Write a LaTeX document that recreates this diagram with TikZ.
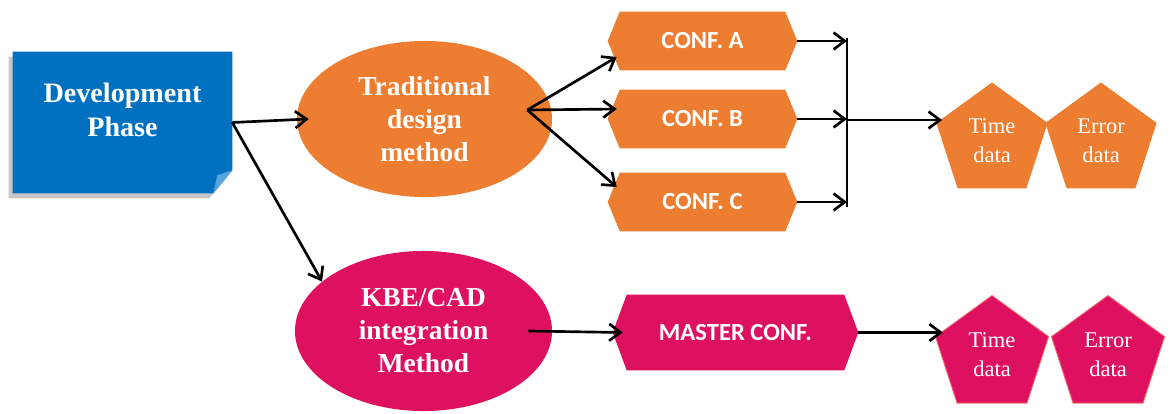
\documentclass[tikz,border=0pt]{standalone}
\usepackage{fontspec}
\setmainfont{Liberation Serif}
\newfontfamily\calibsans{Carlito}
\usetikzlibrary{arrows.meta,shapes.geometric,backgrounds,calc}

\definecolor{devblue}{RGB}{0,112,192}
\definecolor{devcurl}{RGB}{90,165,220}
\definecolor{tradorange}{RGB}{237,125,49}
\definecolor{kbepink}{RGB}{222,17,96}
\definecolor{pinkedge}{RGB}{245,110,110}

% hexagonal "signal" box filled behind a named rectangular node
\newcommand\hexfill[3]{%
  \fill[#2] (#1.west) -- ([xshift=#3]#1.north west) -- ([xshift=-#3]#1.north east)
    -- (#1.east) -- ([xshift=-#3]#1.south east) -- ([xshift=#3]#1.south west) -- cycle;}

\tikzset{
  arr/.style={line width=1.9pt, -{Straight Barb[length=8pt,width=12pt]}},
  busline/.style={line width=1.9pt},
  method/.style={ellipse, inner sep=0pt, text=white, align=center,
    font=\bfseries\fontsize{19.5}{23.5}\selectfont},
  confbox/.style={rectangle, inner sep=0pt, text=white,
    font=\calibsans\bfseries\fontsize{17.5}{20}\selectfont},
  pent/.style={regular polygon, regular polygon sides=5, inner sep=0pt,
    text=white, align=center, font=\fontsize{16}{20.5}\selectfont},
  devtext/.style={text=white, align=center, font=\bfseries\fontsize{20}{24.5}\selectfont},
}

\begin{document}
\begin{tikzpicture}[x=0.025cm, y=-0.025cm]
\useasboundingbox (0,0) rectangle (1170,414);

% development phase note
\node[rectangle, minimum width=5.475cm, minimum height=3.525cm, inner sep=0pt] (dev) at (122.5,122.5) {};
\begin{scope}[on background layer]
  \fill[black, opacity=0.22] ([shift={(-4,5)}]dev.north west) -- ([shift={(-4,5)}]dev.north east)
    -- ([shift={(-4,5)}]$(dev.south east)+(0,-23)$) -- ([shift={(-4,5)}]$(dev.south east)+(-19,0)$)
    -- ([shift={(-4,5)}]dev.south west) -- cycle;
  \fill[devblue] (dev.north west) -- (dev.north east) -- ($(dev.south east)+(0,-23)$)
    -- ($(dev.south east)+(-19,0)$) -- (dev.south west) -- cycle;
  \fill[devcurl] ($(dev.south east)+(0,-23)$) -- ($(dev.south east)+(-19,0)$) -- ($(dev.south east)+(-15,-18)$) -- cycle;
\end{scope}
\node[devtext] (devlabel) at (122.5,110) {Development\\Phase};

% design methods
\node[method, fill=tradorange, minimum width=6.375cm, minimum height=3.9cm] (trad) at (424.5,119) {Traditional\\design\\method};
\node[method, fill=kbepink, minimum width=6.425cm, minimum height=4.0cm] (kbe) at (423.5,331) {KBE/CAD\\integration\\Method};

% configurations
\node[confbox, minimum width=4.725cm, minimum height=1.45cm] (ca) at (702.5,41) {CONF. A};
\node[confbox, minimum width=4.725cm, minimum height=1.45cm] (cb) at (702.5,119) {CONF. B};
\node[confbox, minimum width=4.725cm, minimum height=1.45cm] (cc) at (702.5,202) {CONF. C};
\node[confbox, minimum width=6.125cm, minimum height=1.875cm] (ms) at (735.5,332.5) {MASTER CONF.};
\begin{scope}[on background layer]
  \hexfill{ca}{tradorange}{0.3cm}
  \hexfill{cb}{tradorange}{0.3cm}
  \hexfill{cc}{tradorange}{0.3cm}
  \hexfill{ms}{kbepink}{0.35cm}
\end{scope}

% collected data
\node[pent, fill=tradorange, minimum size=2.925cm] (tA) at (992,141) {Time\\data};
\node[pent, fill=tradorange, minimum size=2.925cm] (eA) at (1101,141) {Error\\data};
\node[pent, fill=kbepink, draw=pinkedge, line width=0.6pt, minimum size=2.975cm] (tB) at (992,355) {Time\\data};
\node[pent, fill=kbepink, draw=pinkedge, line width=0.6pt, minimum size=2.975cm] (eB) at (1108,355) {Error\\data};

% connectors
\coordinate (tradout) at ([shift={(-25,-9)}]trad.east);
\coordinate (bus) at (847,120);

\draw[arr] (dev.east) -- ([xshift=0.3cm]trad.west);
\draw[arr] (dev.east) -- (kbe.154);

\draw[arr] (tradout) -- ([shift={(9,16)}]ca.west);
\draw[arr] (tradout) -- ([shift={(9,-10)}]cb.west);
\draw[arr] (tradout) -- ([shift={(9,-15)}]cc.west);

\draw[arr] (ca.east) -- (ca.east -| bus);
\draw[arr] (cb.east) -- (cb.east -| bus);
\draw[arr] (cc.east) -- (cc.east -| bus);
\draw[busline] ([yshift=0.08cm]ca.east -| bus) -- ([yshift=-0.12cm]cc.east -| bus);
\draw[arr] (bus) -- ([xshift=0.15cm]bus -| tA.corner 2);

\draw[arr] ([xshift=-0.6cm]kbe.east) -- ([xshift=0.25cm]ms.west);
\draw[arr] (ms.east) -- ([xshift=0.2cm]ms.east -| tB.corner 2);
\end{tikzpicture}
\end{document}
